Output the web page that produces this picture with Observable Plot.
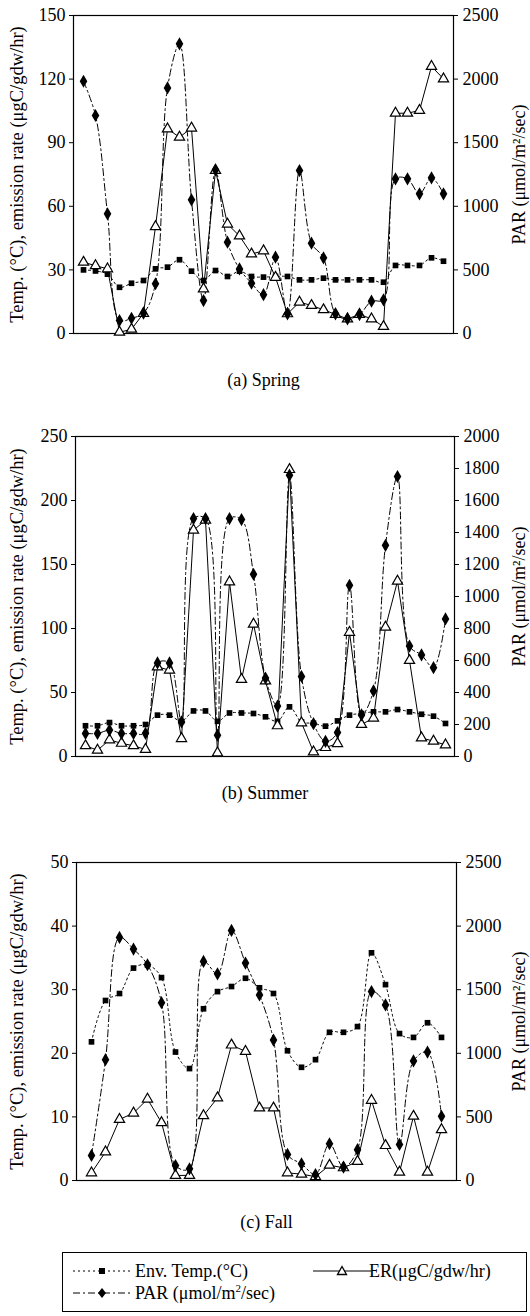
<!DOCTYPE html>
<html><head><meta charset="utf-8">
<script src="https://cdn.jsdelivr.net/npm/d3@7"></script>
<script src="https://cdn.jsdelivr.net/npm/@observablehq/plot@0.6"></script>
<style>
body{margin:0;background:#fff;font-family:"Liberation Serif","Times New Roman",serif;color:#000;}
#wrap{position:relative;width:530px;height:1316px;}
#wrap svg{display:block}
#legend{position:absolute;left:62px;top:1252px;width:465px;height:60px;border:1px solid #000;box-sizing:border-box;font-size:18px;}
.li{position:absolute;white-space:nowrap;line-height:18px;}
.ls{position:absolute;}
sup{font-size:11px;line-height:0;vertical-align:7px;}
</style></head><body><div id="wrap"><div id="panels"></div>
<div id="legend"></div></div>
<script>
// ---- Spring (31 samples) ----
const springTemp = [30, 29.5, 28, 21.8, 23.7, 25, 30.5, 31.3, 34.8, 29.4, 25, 29.7, 26.9, 29.4, 26.9, 26.6, 26.9, 26.9, 25.3, 25.3, 26.1, 25.3, 25.3, 25.3, 25.3, 24.2, 32.1, 32.1, 32.1, 35.7, 34.1];
const springER = [33.6, 32, 30.5, 0.6, 2, 9.5, 50.4, 96.5, 92.6, 96.9, 21, 76.9, 51.6, 46, 37.5, 39, 26.5, 9.3, 14.8, 13.2, 11.2, 9, 6.9, 9, 6.9, 3.3, 103.9, 103.9, 105.2, 126, 120.1];
const springPAR = [1983, 1714, 941, 102, 120, 160, 391, 1931, 2277, 1051, 259, 1287, 718, 508, 396, 305, 600, 155, 1281, 710, 595, 155, 115, 149, 254, 265, 1216, 1216, 1098, 1224, 1098];

// ---- Summer (31 samples) ----
const summerTemp = [24, 24, 26.5, 24, 24, 25, 32.3, 32.3, 27.5, 35.6, 35.6, 27.5, 34, 34, 33.6, 31, 27.5, 38.8, 27, 26, 23.7, 27.8, 32.3, 33.6, 34.9, 34.9, 36.7, 34.9, 33, 31.5, 25.8];
const summerER = [8.4, 4.9, 13, 10.3, 8.4, 5.5, 70, 67.5, 14, 176.8, 184.6, 2.8, 136.4, 60.2, 103.4, 59, 24, 224.2, 26.3, 3.6, 7, 10.1, 97, 25, 30, 101, 137, 75, 14.5, 12, 9];
const summerPAR = [144, 144, 165, 144, 144, 145, 585, 585, 216, 1487, 1487, 133, 1487, 1481, 1139, 490, 315, 1758, 500, 205, 95, 150, 1070, 260, 410, 1320, 1750, 690, 635, 555, 860];

// ---- Fall (26 samples) ----
const fallTemp = [21.8, 28.3, 29.4, 33.4, 33.9, 31.9, 20.2, 17.6, 27, 29.7, 30.5, 31.8, 30.3, 29.4, 20.4, 17.8, 19, 23.3, 23.3, 24.2, 35.8, 30.8, 23.1, 22.5, 24.8, 22.5];
const fallER = [1.2, 4.5, 9.6, 10.6, 12.8, 9.1, 0.8, 0.8, 10.2, 13, 21.3, 20.3, 11.4, 11.4, 1.2, 1.0, 0.6, 2.4, 2.0, 3.0, 12.6, 5.5, 1.3, 10.1, 1.3, 8.0];
const fallPAR = [197, 950, 1911, 1819, 1696, 1398, 118, 92, 1722, 1625, 1966, 1709, 1459, 1104, 205, 131, 47, 289, 105, 242, 1485, 1380, 284, 940, 1010, 505];

// ---- axes ----
const springLeftTicks = [0, 30, 60, 90, 120, 150];
const springRightTicks = [0, 500, 1000, 1500, 2000, 2500];
const summerLeftTicks = [0, 50, 100, 150, 200, 250];
const summerRightTicks = [0, 200, 400, 600, 800, 1000, 1200, 1400, 1600, 1800, 2000];
const fallLeftTicks = [0, 10, 20, 30, 40, 50];
const fallRightTicks = [0, 500, 1000, 1500, 2000, 2500];

const leftTitle = "Temp. (°C), emission rate (μgC/gdw/hr)";
const rightTitle = "PAR (μmol/m²/sec)";
const captions = ["(a) Spring", "(b) Summer", "(c) Fall"];

const FONT = "Liberation Serif";

function panel(o) {
  const k = o.parMax / o.yMax;
  const n = o.temp.length;
  const idx = d3.range(n);
  const rows = idx.map(i => ({i, temp: o.temp[i], er: o.er[i], par: o.par[i] / k}));
  const frameRight = 530 - o.marginRight;
  return Plot.plot({
    width: 530, height: o.height,
    marginTop: o.marginTop, marginBottom: o.marginBottom,
    marginLeft: o.marginLeft, marginRight: o.marginRight,
    style: {fontFamily: FONT, fontSize: "18px", background: "white", color: "black"},
    x: {type: "point", domain: idx, padding: 0.5, axis: null},
    y: {domain: [0, o.yMax], axis: null},
    marks: [
      Plot.frame({stroke: "black", strokeWidth: 1.2}),
      Plot.axisY(o.leftTicks, {anchor: "left", tickSize: 4, tickPadding: 4, label: null, fontSize: 18}),
      Plot.axisY(o.rightTicks.map(v => v / k), {anchor: "right", tickSize: 4, tickPadding: 5, label: null, fontSize: 18,
        tickFormat: v => String(Math.round(v * k))}),
      Plot.text([leftTitle], {frameAnchor: "left", dx: 17 - o.marginLeft, rotate: -90, textAnchor: "middle", lineAnchor: "middle", fontSize: 18.5}),
      Plot.text([rightTitle], {frameAnchor: "right", dx: 518.5 - frameRight, rotate: -90, textAnchor: "middle", lineAnchor: "middle", fontSize: 18}),
      Plot.text([o.caption], {frameAnchor: "bottom", dy: o.capDy, textAnchor: "middle", lineAnchor: "middle", fontSize: 18}),
      Plot.line(rows, {x: "i", y: "temp", curve: "catmull-rom", stroke: "black", strokeWidth: 1, strokeDasharray: "2,3"}),
      Plot.line(rows, {x: "i", y: "par", curve: "catmull-rom", stroke: "black", strokeWidth: 1, strokeDasharray: "7,3,2,3"}),
      Plot.line(rows, {x: "i", y: "er", stroke: "black", strokeWidth: 1}),
      Plot.dot(rows, {x: "i", y: "temp", symbol: "square", r: 3.2, fill: "black", stroke: "none"}),
      Plot.dot(rows, {x: "i", y: "er", symbol: "triangle", r: 3.8, fill: "white", stroke: "black", strokeWidth: 1.2}),
      Plot.dot(rows, {x: "i", y: "par", symbol: "diamond", r: 4, fill: "black", stroke: "none"})
    ]
  });
}

const host = document.getElementById("panels");
host.appendChild(panel({temp: springTemp, er: springER, par: springPAR, yMax: 150, parMax: 2500,
  leftTicks: springLeftTicks, rightTicks: springRightTicks, caption: captions[0], capDy: 47,
  height: 400, marginTop: 15, marginBottom: 67, marginLeft: 73, marginRight: 77}));
host.appendChild(panel({temp: summerTemp, er: summerER, par: summerPAR, yMax: 250, parMax: 2000,
  leftTicks: summerLeftTicks, rightTicks: summerRightTicks, caption: captions[1], capDy: 37,
  height: 430, marginTop: 36, marginBottom: 74, marginLeft: 75, marginRight: 76}));
host.appendChild(panel({temp: fallTemp, er: fallER, par: fallPAR, yMax: 50, parMax: 2500,
  leftTicks: fallLeftTicks, rightTicks: fallRightTicks, caption: captions[2], capDy: 42,
  height: 410, marginTop: 32, marginBottom: 60, marginLeft: 76, marginRight: 74}));

// ---- legend ----
const lg = document.getElementById("legend");
function sample(left, top, dash, sym) {
  const w = 58;
  let marker = "";
  if (sym === "square") marker = `<rect x="${w/2-3}" y="7" width="6" height="6" fill="black"/>`;
  if (sym === "diamond") marker = `<path d="M${w/2},5 L${w/2+4},10 L${w/2},15 L${w/2-4},10Z" fill="black"/>`;
  if (sym === "triangle") marker = `<path d="M${w/2},5.5 L${w/2+4.5},13.5 L${w/2-4.5},13.5Z" fill="white" stroke="black" stroke-width="1.3"/>`;
  return `<svg class="ls" style="left:${left}px;top:${top}px" width="${w}" height="20"><line x1="0" y1="10" x2="${w}" y2="10" stroke="black" stroke-width="1" ${dash ? `stroke-dasharray="${dash}"` : ""}/>${marker}</svg>`;
}
lg.innerHTML =
  sample(10, 8, "2,3", "square") + `<div class="li" style="left:72px;top:9px">Env. Temp.(°C)</div>` +
  sample(250, 8, null, "triangle") + `<div class="li" style="left:306px;top:9px">ER(μgC/gdw/hr)</div>` +
  sample(10, 30, "7,3,2,3", "diamond") + `<div class="li" style="left:72px;top:31px">PAR (μmol/m<sup>2</sup>/sec)</div>`;
</script>
</body></html>
